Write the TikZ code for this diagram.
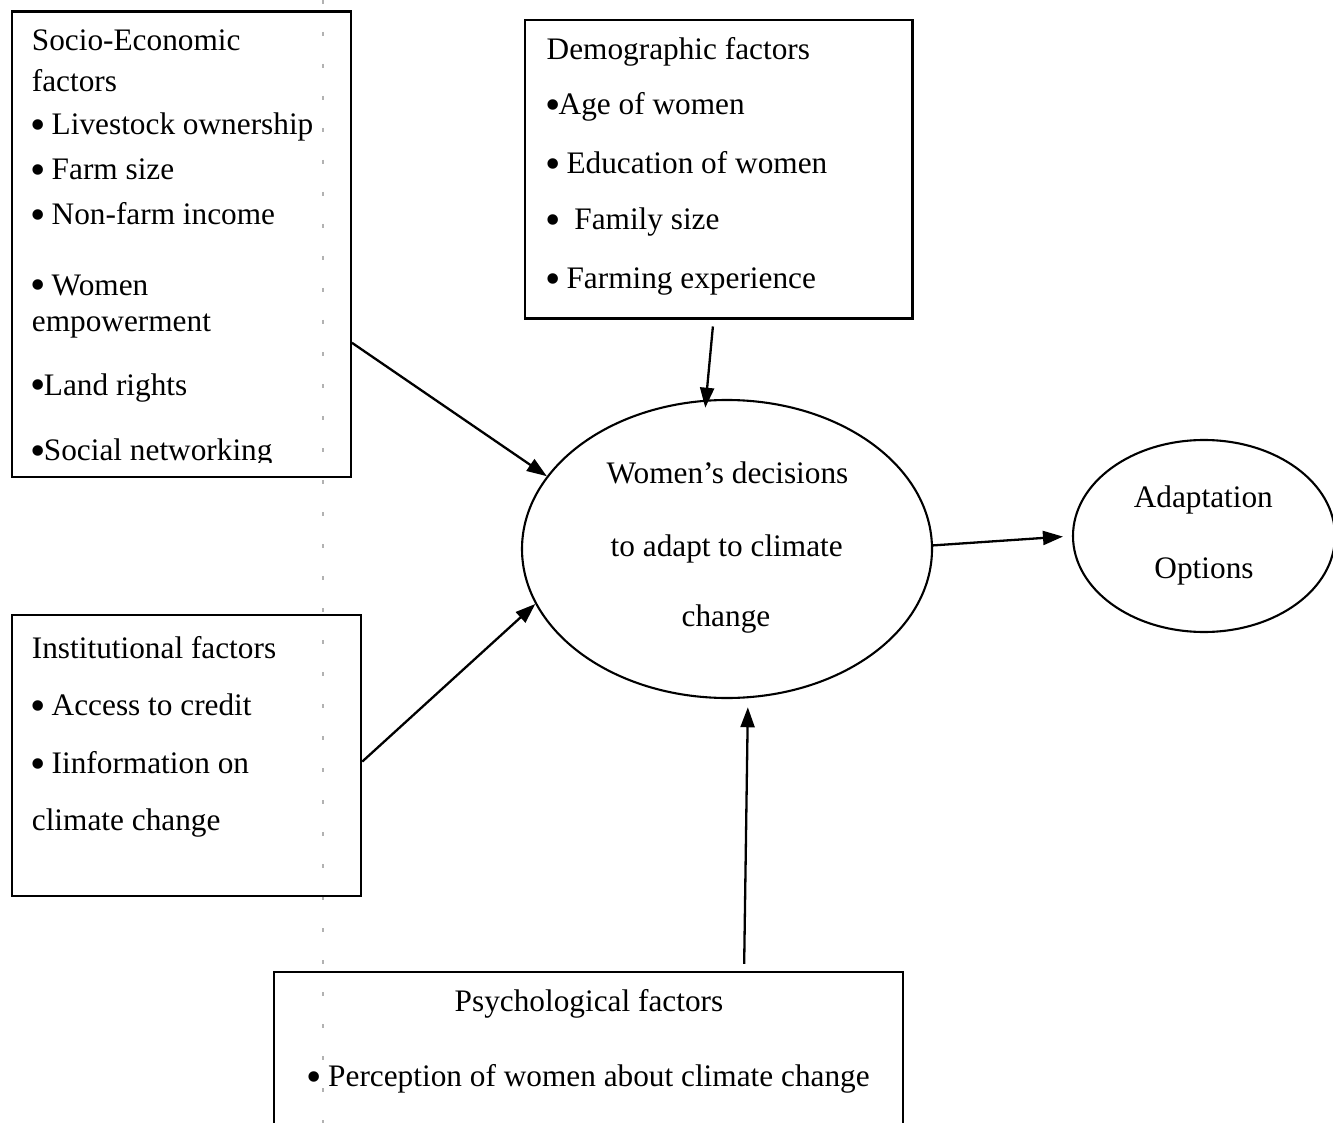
\documentclass[tikz,border=0pt]{standalone}
\usepackage{graphicx}
\usepackage{fontspec}
\setmainfont{Liberation Serif}
\usetikzlibrary{arrows.meta,shapes.geometric}
\newcommand{\bul}{\makebox[12pt][c]{\raisebox{-5pt}{\scalebox{1.4}{•}}}}
\begin{document}
\begin{tikzpicture}[x=1pt,y=-1pt,
  box/.style={draw, line width=2.4pt, rectangle, inner sep=0pt},
  oval/.style={draw, line width=2.1pt, ellipse, inner sep=0pt},
  txt/.style={anchor=base west, inner sep=0pt, font=\fontsize{31.3}{37}\selectfont},
  ctxt/.style={anchor=base, inner sep=0pt, font=\fontsize{31.3}{37}\selectfont},
  arr/.style={-{Triangle[length=20pt,width=14pt]}, line width=2.3pt},
  guide/.style={gray!60, line width=1.2pt, dash pattern=on 4pt off 28pt}]
\useasboundingbox (0,0) rectangle (1333,1123);
\clip (0,0) rectangle (1333,1123);
\fill[white] (0,0) rectangle (1333,1123);

% faint dotted guide line of the original page
\coordinate (gtop) at (323,0);
\coordinate (gbot) at (323,1123);
\draw[guide] (gtop) -- (gbot);

% boxes
\node[box, minimum width=339pt, minimum height=465pt] (se) at (181.2,244.2) {};
\node[box, minimum width=387.6pt, minimum height=298.2pt] (de) at (718.8,169.2) {};
\node[box, minimum width=349.3pt, minimum height=281pt] (in) at (186.35,755.5) {};
\node[box, minimum width=629pt, minimum height=163pt] (ps) at (588.5,1053.5) {};

% ellipses
\node[oval, minimum width=410pt, minimum height=298pt] (dec) at (727,549) {};
\node[oval, minimum width=262pt, minimum height=192pt] (ad) at (1204,536) {};

% Socio-Economic texts
\begin{scope}
\clip (12,12) rectangle (350,462);
\node[txt] (se1) at (31.7,51) {Socio-Economic};
\node[txt] (se2) at (31.7,92) {factors};
\node[txt] (se3) at (31.7,135) {\bul{} Livestock ownership};
\node[txt] (se4) at (31.7,180) {\bul{} Farm size};
\node[txt] (se5) at (31.7,225) {\bul{} Non-farm income};
\node[txt] (se6) at (31.7,295) {\bul{} Women};
\node[txt] (se7) at (31.7,331.7) {empowerment};
\node[txt] (se8) at (31.7,395) {\bul{}Land rights};
\node[txt] (se9) at (31.7,460.5) {\bul{}Social networking};
\end{scope}

% Demographic texts
\node[txt] (de1) at (546.5,60) {Demographic factors};
\node[txt] (de2) at (546.5,115) {\bul{}Age of women};
\node[txt] (de3) at (546.5,173.3) {\bul{} Education of women};
\node[txt] (de4) at (546.5,230) {\bul\ \ Family size};
\node[txt] (de5) at (546.5,288.3) {\bul{} Farming experience};

% Institutional texts
\node[txt] (in1) at (31.7,658.3) {Institutional factors};
\node[txt] (in2) at (31.7,715) {\bul{} Access to credit};
\node[txt] (in3) at (31.7,773.3) {\bul{} Iinformation on};
\node[txt] (in4) at (31.7,830) {climate change};

% Psychological texts
\node[ctxt] (ps1) at (589,1011.5) {Psychological factors};
\node[txt] (ps2) at (308,1086.5) {\bul{}\kern8pt Perception of women about climate change};

% ellipse texts
\node[ctxt] (dc1) at (727.5,483.3) {Women’s decisions};
\node[ctxt] (dc2) at (726.7,556.7) {to adapt to climate};
\node[ctxt] (dc3) at (726,626.7) {change};
\node[ctxt] (ad1) at (1203.3,507.3) {Adaptation};
\node[ctxt] (ad2) at (1204,578.3) {Options};

% connectors
\draw[arr] (se.-30.5) -- (dec.158.4);
\draw[arr] (in.-2.0) -- (dec.-164.1);
\draw[arr, shorten <=7pt, shorten >=-8pt] (de.-92.1) -- (dec.98.3);
\draw[arr, shorten <=7pt, shorten >=9pt] (ps.28.6) -- (dec.-82.4);
\draw[arr, shorten >=9pt] (dec.1) -- (ad.180);
\end{tikzpicture}
\end{document}
